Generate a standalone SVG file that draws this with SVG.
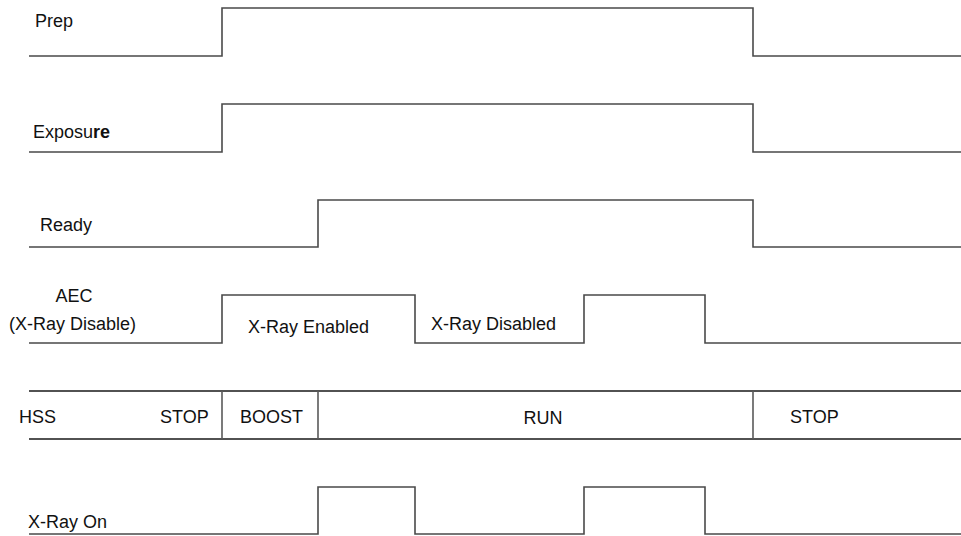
<svg xmlns="http://www.w3.org/2000/svg" width="961" height="536" viewBox="0 0 961 536">
  <style>
    .sig { fill: none; stroke: #4a4a4a; stroke-width: 1.6; }
    .bus { fill: none; stroke: #1a1a1a; stroke-width: 1.6; }
    .div { fill: none; stroke: #5a5a5a; stroke-width: 1.6; }
    text { font-family: "Liberation Sans", Arial, sans-serif; font-size: 18px; fill: #111; }
    .b { font-weight: bold; }
  </style>
  <rect width="961" height="536" fill="#fff"/>

  <g id="waveforms">
    <g id="prep">
      <path class="sig" d="M29,56 H222 V8 H753 V56 H961"/>
      <text x="35" y="27">Prep</text>
    </g>
    <g id="exposure">
      <path class="sig" d="M29,152 H222 V104 H753 V152 H961"/>
      <text x="33" y="138">Exposu<tspan class="b">re</tspan></text>
    </g>
    <g id="ready">
      <path class="sig" d="M29,247 H318 V200 H753 V247 H961"/>
      <text x="40" y="231">Ready</text>
    </g>
    <g id="aec">
      <path class="sig" d="M29,343 H222 V295 H415 V343 H584 V295 H705 V343 H961"/>
      <text x="74" y="302" text-anchor="middle">AEC</text>
      <text x="9" y="330">(X-Ray Disable)</text>
      <text x="248" y="333">X-Ray Enabled</text>
      <text x="431" y="330">X-Ray Disabled</text>
    </g>
    <g id="hss">
      <path class="bus" d="M29,391 H961 M29,439 H961"/>
      <path class="div" d="M222,391 V439 M318,391 V439 M753,391 V439"/>
      <text x="19" y="423">HSS</text>
      <text x="160" y="423">STOP</text>
      <text x="240" y="423">BOOST</text>
      <text x="543" y="424" text-anchor="middle">RUN</text>
      <text x="790" y="423">STOP</text>
    </g>
    <g id="xray-on">
      <path class="sig" d="M29,534 H318 V487 H415 V534 H584 V487 H705 V534 H961"/>
      <text x="28" y="528">X-Ray On</text>
    </g>
  </g>
</svg>
